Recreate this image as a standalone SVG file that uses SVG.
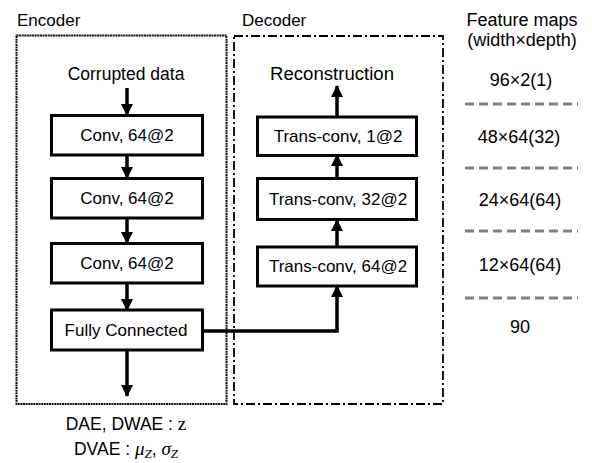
<svg xmlns="http://www.w3.org/2000/svg" width="592" height="463" viewBox="0 0 592 463">
<style>
text{font-family:"Liberation Sans",Arial,sans-serif;fill:#000}
.t{font-size:17px;text-anchor:middle}
.l{font-size:17.5px;text-anchor:middle}
.h{font-size:17px}
.f{font-size:18px;text-anchor:middle}
.box{fill:#fff;stroke:#000;stroke-width:3}
.c{fill:none;stroke:#000;stroke-width:3.5}
.sep{stroke:#808080;stroke-width:3;stroke-dasharray:9 5}
.m{font-family:"Liberation Serif","Times New Roman",serif;font-style:italic}
</style>
<defs>
<marker id="ah" viewBox="0 0 12 12" refX="11" refY="6" markerWidth="12" markerHeight="12" markerUnits="userSpaceOnUse" orient="auto">
<path d="M0,0 L12,6 L0,12 z" fill="#000"/>
</marker>
</defs>
<rect id="encoder" x="16.5" y="35.5" width="210" height="368.5" fill="none" stroke="#111" stroke-width="2" stroke-dasharray="2 0.6"/>
<text class="h" x="17" y="26">Encoder</text>
<rect id="decoder" x="234" y="36" width="209" height="368" fill="none" stroke="#000" stroke-width="1.8" stroke-dasharray="9 3 2 3"/>
<text class="h" x="242" y="26">Decoder</text>
<g id="connectors">
<path class="c" d="M127,88 V115" marker-end="url(#ah)"/>
<path class="c" d="M127,155 V178" marker-end="url(#ah)"/>
<path class="c" d="M127,218 V243" marker-end="url(#ah)"/>
<path class="c" d="M127,283 V310" marker-end="url(#ah)"/>
<path class="c" d="M127,350 V396" marker-end="url(#ah)"/>
<path class="c" d="M203,331 H337 V286" marker-end="url(#ah)"/>
<path class="c" d="M337,247 V220" marker-end="url(#ah)"/>
<path class="c" d="M337,178 V155" marker-end="url(#ah)"/>
<path class="c" d="M337,117 V86" marker-end="url(#ah)"/>
</g>
<g id="in"><text class="l" x="126" y="80">Corrupted data</text></g>
<g id="conv1"><rect class="box" x="51.5" y="115.5" width="151" height="39.5"/><text class="t" x="127" y="141">Conv, 64@2</text></g>
<g id="conv2"><rect class="box" x="51.5" y="178.5" width="151" height="39.5"/><text class="t" x="127" y="204">Conv, 64@2</text></g>
<g id="conv3"><rect class="box" x="51.5" y="243.5" width="151" height="39.5"/><text class="t" x="127" y="269">Conv, 64@2</text></g>
<g id="fc"><rect class="box" x="51.5" y="310" width="151" height="40"/><text class="t" x="126" y="336">Fully Connected</text></g>
<g id="out">
<text class="l" x="126" y="430">DAE, DWAE : <tspan font-family="Liberation Serif, serif" font-size="19">z</tspan></text>
<text class="l" x="126" y="455">DVAE : <tspan class="m" font-size="19">μ</tspan><tspan class="m" font-size="13" dy="3">Z</tspan><tspan dy="-3">, </tspan><tspan class="m" font-size="19">σ</tspan><tspan class="m" font-size="13" dy="3">Z</tspan></text>
</g>
<g id="recon"><text class="l" x="332" y="80" textLength="124" lengthAdjust="spacingAndGlyphs">Reconstruction</text></g>
<g id="tconv1"><rect class="box" x="257.5" y="117" width="159" height="38.5"/><text class="t" x="338" y="142">Trans-conv, 1@2</text></g>
<g id="tconv2"><rect class="box" x="257.5" y="178.5" width="159" height="41"/><text class="t" x="338" y="205">Trans-conv, 32@2</text></g>
<g id="tconv3"><rect class="box" x="257.5" y="247" width="159" height="39"/><text class="t" x="338" y="272">Trans-conv, 64@2</text></g>
<g id="features">
<text class="f" x="522" y="26">Feature maps</text>
<text class="f" x="522" y="46">(width×depth)</text>
<text class="f" x="521" y="86">96×2(1)</text>
<line class="sep" x1="465" y1="104" x2="578" y2="104"/>
<text class="f" x="519" y="143">48×64(32)</text>
<line class="sep" x1="465" y1="168" x2="578" y2="168"/>
<text class="f" x="520" y="206">24×64(64)</text>
<line class="sep" x1="465" y1="231" x2="578" y2="231"/>
<text class="f" x="520" y="271">12×64(64)</text>
<line class="sep" x1="465" y1="298" x2="578" y2="298"/>
<text class="f" x="520" y="333">90</text>
</g>
</svg>
